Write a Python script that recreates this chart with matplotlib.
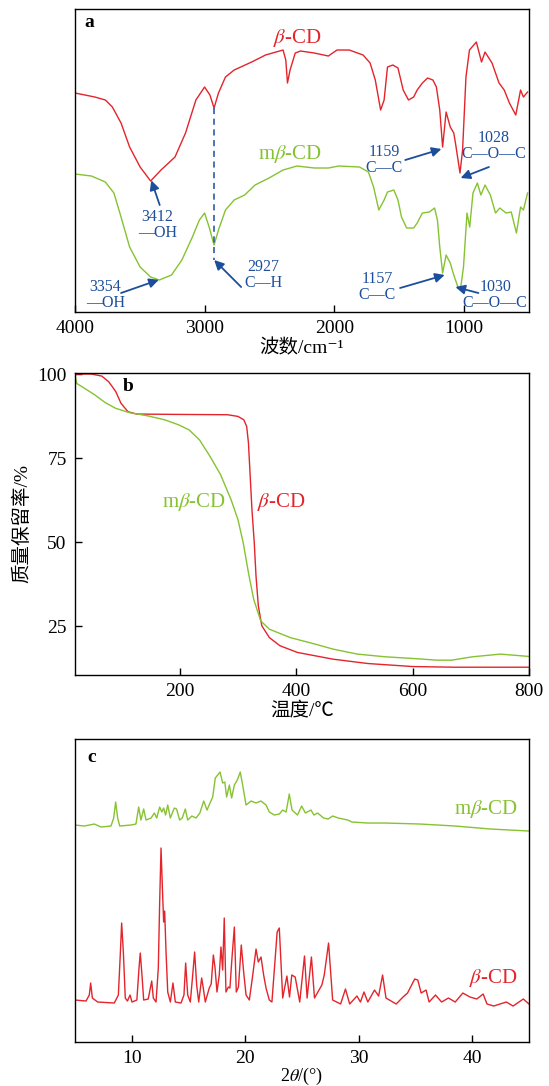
"""FTIR (a), TGA (b) and XRD (c) of beta-CD and m-beta-CD, stacked in one figure."""

import matplotlib
matplotlib.use("Agg")
import matplotlib.pyplot as plt
import numpy as np

plt.rcParams["font.family"] = ["Liberation Serif", "Noto Sans CJK SC", "DejaVu Serif"]
plt.rcParams["mathtext.fontset"] = "stix"

RED = "#e3242b"
GREEN = "#86c232"
BLUE = "#1c4e9c"

# ---- (a) FTIR, transmittance in arbitrary units ----
ftir_wn_b = [4000, 3847, 3766, 3712, 3645, 3579, 3498, 3417, 3337, 3229, 3148, 3068,
             3001, 2960, 2928, 2894, 2840, 2773, 2638, 2531, 2396, 2375, 2362, 2342,
             2302, 2262, 2155, 2047, 1980, 1886, 1779, 1725, 1685, 1644, 1617, 1591,
             1550, 1510, 1470, 1429, 1389, 1362, 1322, 1282, 1241, 1214, 1188, 1166,
             1139, 1107, 1080, 1067, 1032, 1012, 986, 959, 906, 866, 839, 785, 731,
             691, 651, 602, 565, 543, 511]
ftir_t_b = [219, 215, 212, 205, 189, 165, 145, 131, 142, 155, 179, 212,
            225, 217, 204, 219, 235, 242, 250, 257, 262, 252, 229, 242,
            259, 261, 259, 256, 262, 262, 257, 249, 232, 202, 212, 245,
            247, 244, 222, 212, 215, 222, 229, 234, 232, 225, 202, 165,
            200, 185, 179, 169, 139, 162, 235, 262, 270, 250, 260, 249, 229,
            222, 209, 197, 222, 215, 220]

ftir_wn_m = [4000, 3874, 3766, 3700, 3645, 3579, 3498, 3417, 3350, 3256, 3176, 3095,
             3041, 3001, 2966, 2928, 2894, 2840, 2773, 2692, 2612, 2504, 2396, 2289,
             2155, 2047, 1967, 1806, 1738, 1698, 1658, 1617, 1591, 1542, 1510, 1483,
             1443, 1389, 1362, 1322, 1268, 1228, 1206, 1188, 1166, 1139, 1107, 1080,
             1048, 1026, 1005, 978, 957, 932, 898, 871, 839, 798, 758, 725, 677,
             637, 597, 565, 543, 511]
ftir_t_m = [138, 136, 130, 119, 95, 65, 45, 35, 32, 37, 52, 75,
            92, 99, 85, 67, 82, 102, 112, 117, 127, 134, 142, 146,
            144, 144, 146, 145, 140, 125, 102, 112, 120, 122, 112, 95,
            84, 84, 89, 99, 100, 104, 92, 65, 39, 57, 49, 37,
            25, 25, 45, 99, 85, 119, 129, 117, 127, 117, 99, 104, 99,
            100, 79, 105, 102, 119]

# ---- (b) TGA, mass retention / % ----
tga_t_b = [20, 48, 66, 78, 90, 99, 111, 126, 192, 282, 300, 310, 315, 318, 321, 324,
           328, 331, 335, 341, 354, 372, 402, 463, 523, 600, 672, 800]
tga_m_b = [100, 100, 99.4, 97.7, 94.8, 91.3, 88.8, 88.1, 88.0, 87.9, 87.4, 86.4, 84.4,
           79.5, 69.6, 59.7, 49.8, 39.9, 31.0, 25.1, 21.6, 19.2, 17.2, 15.2, 13.9,
           13.0, 12.8, 12.8]

tga_t_m = [20, 23, 36, 54, 72, 90, 114, 144, 174, 198, 216, 234, 252, 270, 288, 300,
           309, 318, 327, 339, 354, 390, 432, 463, 505, 553, 600, 642, 667, 703, 751, 800]
tga_m_m = [99.7, 97.2, 95.8, 93.8, 91.5, 89.8, 88.5, 87.6, 86.4, 84.9, 83.4, 80.4,
           75.5, 70.1, 62.7, 56.7, 49.8, 40.9, 33.0, 26.6, 24.1, 21.6, 19.7, 18.2,
           16.7, 15.9, 15.4, 14.9, 14.9, 15.9, 16.7, 16.0]

# ---- (c) XRD, intensity in arbitrary units ----
xrd_2t_m = [5.0, 5.82, 6.7, 7.29, 8.17, 8.41, 8.58, 8.76, 8.94, 9.93, 10.37, 10.61,
            10.81, 11.05, 11.26, 11.7, 11.99, 12.2, 12.46, 12.65, 12.81, 12.98, 13.17,
            13.4, 13.75, 13.95, 14.22, 14.45, 14.72, 14.93, 15.3, 15.66, 16.0, 16.34,
            16.63, 17.13, 17.36, 17.57, 17.78, 18.01, 18.2, 18.36, 18.6, 18.8, 19.04,
            19.3, 19.56, 19.77, 20.07, 20.51, 20.95, 21.39, 21.83, 22.12, 22.56, 23.0,
            23.3, 23.6, 23.88, 24.12, 24.6, 24.97, 25.3, 25.79, 26.05, 26.38, 26.9,
            27.3, 27.7, 28.2, 29.03, 29.4, 30.8, 32.3, 35.4, 38.5, 41.6, 45.0]
xrd_i_m = [217, 216, 218, 215, 216, 224, 240, 224, 216, 217, 218, 235,
           222, 233, 222, 224, 229, 224, 235, 230, 234, 227, 237,
           224, 234, 233, 222, 224, 233, 222, 226, 224, 229, 241,
           232, 245, 264, 267, 270, 259, 260, 245, 257, 244, 257,
           262, 270, 257, 237, 241, 239, 241, 237, 230, 227, 228,
           232, 230, 248, 232, 227, 236, 229, 232, 227, 229, 224,
           223, 226, 224, 222, 220, 219, 219, 218, 216, 213, 211]

xrd_2t_b = [5.0, 5.97, 6.26, 6.38, 6.53, 7.0, 8.46, 8.82, 9.0, 9.11, 9.26, 9.43,
            9.62, 9.85, 10.02, 10.45, 10.64, 10.75, 10.9, 11.05, 11.45, 11.76, 11.9,
            12.14, 12.34, 12.46, 12.58, 12.7, 12.81, 12.9, 13.02, 13.17, 13.4, 13.63,
            13.84, 14.34, 14.6, 14.75, 14.93, 15.16, 15.37, 15.54, 15.72, 15.9, 16.16,
            16.3, 16.48, 16.83, 17.0, 17.19, 17.33, 17.51, 17.71, 17.86, 18.01, 18.15,
            18.3, 18.51, 18.65, 18.83, 19.04, 19.21, 19.4, 19.65, 19.86, 20.07, 20.36,
            20.66, 20.95, 21.15, 21.39, 21.62, 21.83, 22.12, 22.35, 22.81, 23.0, 23.3,
            23.67, 23.9, 24.1, 24.4, 24.8, 25.22, 25.45, 25.83, 26.1, 26.75, 26.96,
            27.34, 27.7, 28.4, 28.83, 29.2, 29.84, 30.15, 30.46, 30.8, 31.39, 31.75,
            32.1, 32.4, 33.3, 33.9, 34.3, 34.93, 35.2, 35.5, 35.93, 36.2, 36.76, 37.3,
            37.9, 38.5, 39.17, 39.8, 40.4, 40.96, 41.3, 41.9, 43.0, 43.6, 44.5, 45.0]
xrd_i_b = [42, 41, 47, 59, 44, 40, 39, 47, 90, 119, 90, 44,
           41, 47, 40, 42, 74, 89, 67, 42, 43, 61, 44,
           40, 74, 140, 194, 154, 120, 131, 90, 50, 40, 59,
           40, 39, 47, 79, 47, 40, 67, 90, 57, 40, 64,
           54, 40, 54, 58, 87, 75, 50, 67, 95, 72, 124,
           50, 55, 54, 84, 115, 50, 55, 97, 70, 47, 42,
           67, 93, 80, 85, 67, 54, 42, 40, 110, 114, 44,
           66, 45, 67, 65, 40, 86, 44, 85, 44, 57, 67,
           99, 42, 38, 53, 38, 46, 40, 50, 40, 52, 46,
           67, 44, 38, 45, 49, 63, 62, 49, 52, 40, 47, 40,
           44, 40, 49, 45, 43, 48, 38, 36, 40, 36, 43, 38]

CJK = ["Liberation Serif", "Noto Sans CJK SC", "DejaVu Serif"]


def style_axes(ax):
    ax.tick_params(direction="in", length=5, width=1.0, labelsize=14, pad=6)
    for sp in ax.spines.values():
        sp.set_linewidth(1.0)


def panel_a(ax):
    ax.plot(ftir_wn_b, ftir_t_b, color=RED, lw=1.0)
    ax.plot(ftir_wn_m, ftir_t_m, color=GREEN, lw=1.0)
    ax.set_xlim(4000, 500)
    ax.set_ylim(0, 303)
    ax.set_xticks([4000, 3000, 2000, 1000])
    ax.set_yticks([])
    style_axes(ax)
    ax.set_xlabel("波数/cm⁻¹", fontsize=14, family=CJK, labelpad=1)

    # interpolators need ascending x
    def tb(w):
        return np.interp(w, ftir_wn_b[::-1], ftir_t_b[::-1])

    def tm(w):
        return np.interp(w, ftir_wn_m[::-1], ftir_t_m[::-1])

    ax.text(0.021, 0.957, "a", transform=ax.transAxes, fontsize=14, weight="bold",
            va="center")
    ax.text(2285, 274, r"$\beta$-CD", color=RED, fontsize=15, ha="center", va="center")
    ax.text(2340, 158, r"m$\beta$-CD", color=GREEN, fontsize=15, ha="center", va="center")

    ax.plot([2927, 2927], [tb(2927), 52], color=BLUE, lw=1.1, ls=(0, (4, 3)))

    arrow = dict(arrowstyle="-|>", color=BLUE, lw=1.3, mutation_scale=14, shrinkA=0, shrinkB=0)
    notes = [
        # text, text position, arrow tail, arrow head
        ("3412\n—OH", (3363, 87), (3347, 107), (3412, tb(3412))),
        ("2927\nC—H", (2550, 37), (2719, 25), (2927, 52)),
        ("3354\n—OH", (3766, 17), (3645, 19), (3354, tm(3354))),
        ("1159\nC—C", (1615, 152), (1454, 152), (1175, 163)),
        ("1028\nC—O—C", (769, 166), (809, 145), (1027, 134)),
        ("1157\nC—C", (1671, 25), (1494, 24), (1150, 37)),
        ("1030\nC—O—C", (761, 17), (890, 19), (1067, 25)),
    ]
    for label, xy_text, tail, head in notes:
        ax.text(*xy_text, label, color=BLUE, fontsize=11.5, ha="center", va="center",
                linespacing=1.0)
        ax.annotate("", xy=head, xytext=tail, arrowprops=arrow)


def panel_b(ax):
    ax.plot(tga_t_b, tga_m_b, color=RED, lw=1.0)
    ax.plot(tga_t_m, tga_m_m, color=GREEN, lw=1.0)
    ax.set_xlim(20, 800)
    ax.set_ylim(10.5, 100.3)
    ax.set_xticks([200, 400, 600, 800])
    ax.set_yticks([25, 50, 75, 100])
    style_axes(ax)
    ax.set_xlabel("温度/℃", fontsize=14, family=CJK, labelpad=1)
    ax.set_ylabel("质量保留率/%", fontsize=14, family=CJK, labelpad=4)
    ax.text(0.118, 0.957, "b", transform=ax.transAxes, fontsize=14, weight="bold",
            ha="center", va="center")
    ax.text(225, 62, r"m$\beta$-CD", color=GREEN, fontsize=15, ha="center", va="center")
    ax.text(374, 62, r"$\beta$-CD", color=RED, fontsize=15, ha="center", va="center")


def panel_c(ax):
    ax.plot(xrd_2t_m, xrd_i_m, color=GREEN, lw=1.0)
    ax.plot(xrd_2t_b, xrd_i_b, color=RED, lw=1.0)
    ax.set_xlim(5, 45)
    ax.set_ylim(0, 303)
    ax.set_xticks([10, 20, 30, 40])
    ax.set_yticks([])
    style_axes(ax)
    ax.set_xlabel(r"2$\theta$/(°)", fontsize=13, labelpad=-1)
    ax.text(0.037, 0.94, "c", transform=ax.transAxes, fontsize=14, weight="bold",
            ha="center", va="center")
    ax.text(44.0, 233, r"m$\beta$-CD", color=GREEN, fontsize=15, ha="right", va="center")
    ax.text(44.0, 64, r"$\beta$-CD", color=RED, fontsize=15, ha="right", va="center")


def main():
    fig = plt.figure(figsize=(5.49, 10.86), dpi=100)
    left, width = 75 / 549, 454 / 549
    ax_a = fig.add_axes([left, 0.7127, width, 0.279])
    ax_b = fig.add_axes([left, 0.3785, width, 0.278])
    ax_c = fig.add_axes([left, 0.0405, width, 0.279])
    panel_a(ax_a)
    panel_b(ax_b)
    panel_c(ax_c)
    fig.savefig("out.png", dpi=100)


if __name__ == "__main__":
    main()
